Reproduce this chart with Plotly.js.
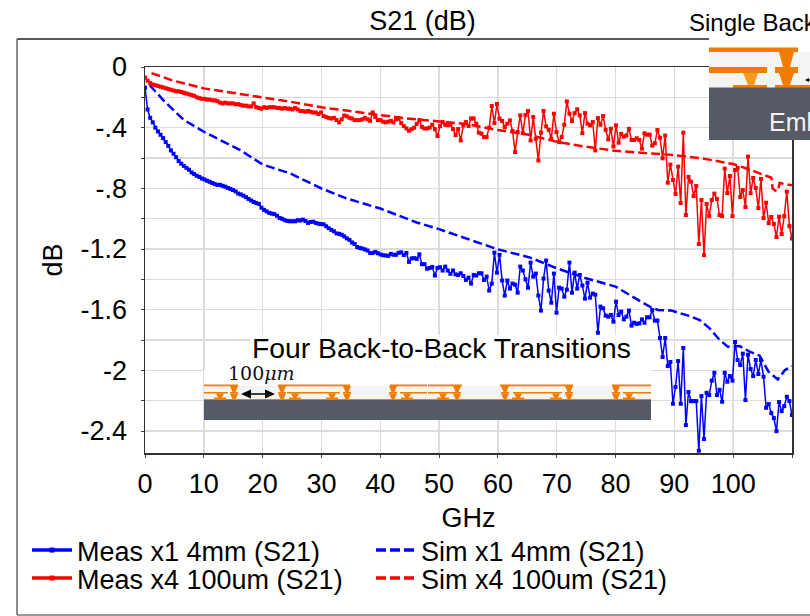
<!DOCTYPE html>
<html><head><meta charset="utf-8">
<script src="https://cdn.plot.ly/plotly-3.0.1.min.js"></script>
<style>html,body{margin:0;padding:0;background:#fff;overflow:hidden}#c{width:810px;height:616px}</style>
</head><body><div id="c"></div>
<script>
const FONT = '"Liberation Sans", Arial, sans-serif';
const stepGHz = 0.44;
const measBlue = [
-.136,-.28,-.335,-.365,-.40,-.425,-.447,-.469,-.495,-.52,-.55,-.572,-.595,-.62,-.638,-.652,-.665,-.677,-.695,-.706,
-.717,-.725,-.735,-.742,-.75,-.757,-.765,-.772,-.777,-.777,-.783,-.789,-.797,-.804,-.811,-.82,-.834,-.84,-.848,-.858,
-.87,-.88,-.89,-.897,-.903,-.928,-.942,-.952,-.962,-.967,-.97,-.981,-.995,-1.001,-1.01,-1.015,-1.017,-1.017,-1.017,-1.01,
-1.012,-1.006,-1.015,-1.028,-1.022,-1.02,-1.028,-1.033,-1.036,-1.037,-1.05,-1.063,-1.074,-1.083,-1.097,-1.10,-1.106,-1.117,-1.13,-1.14,
-1.157,-1.167,-1.187,-1.193,-1.197,-1.203,-1.21,-1.226,-1.226,-1.219,-1.228,-1.236,-1.241,-1.243,-1.245,-1.232,-1.238,-1.238,-1.225,-1.222,
-1.24,-1.226,-1.285,-1.262,-1.26,-1.265,-1.235,-1.30,-1.30,-1.33,-1.325,-1.318,-1.375,-1.325,-1.32,
-1.342,-1.316,-1.342,-1.364,-1.342,-1.367,-1.371,-1.36,-1.378,-1.404,-1.389,-1.428,-1.371,-1.375,-1.36,-1.36,-1.404,-1.382,-1.474,-1.428,
-1.224,-1.356,-1.239,-1.408,-1.507,-1.408,-1.461,-1.428,-1.435,-1.488,-1.316,-1.342,-1.40,-1.455,-1.29,-1.382,-1.362,-1.507,-1.606,-1.395,
-1.276,-1.474,-1.554,-1.362,-1.62,-1.455,-1.461,-1.514,-1.468,-1.29,-1.488,-1.356,-1.461,-1.371,-1.441,-1.527,-1.422,-1.521,-1.494,-1.501,
-1.752,-1.58,
-1.591,-1.639,-1.646,-1.635,-1.679,-1.547,-1.635,-1.613,-1.664,-1.646,
-1.606,-1.705,-1.686,-1.694,-1.69,-1.664,-1.686,-1.65,-1.65,-1.602,
-1.672,-1.672,-1.787,-1.912,-1.787,-1.972,-1.945,-2.22,-2.11,-1.939,
-2.22,-1.853,-2.361,-2.143,-2.203,-2.203,-2.203,-2.53,-2.17,-2.453,
-2.148,-2.163,-2.068,-2.016,-2.163,-2.128,-2.207,-2.016,-2.075,-2.038,
-2.068,-1.813,-1.932,-1.965,-1.89,-2.196,-1.897,-1.991,-2.038,-1.932,
-2.024,-1.932,-2.042,-2.247,-2.222,-2.282,-2.315,-2.401,-2.209,-2.269,
-2.236,-2.174,-2.203,-2.295];
const measRed = [
-.07,-.09,-.105,-.115,-.12,-.125,-.13,-.135,-.14,-.145,-.15,-.155,-.16,-.16,-.165,-.17,-.175,-.18,-.185,-.19,-.2,-.205,-.21,
-.21,-.215,-.215,-.22,-.22,-.225,-.235,-.24,-.235,-.24,-.24,-.24,-.245,-.245,-.25,-.255,-.255,-.26,-.26,-.24,-.265,-.27,-.275,
-.265,-.27,-.265,-.265,-.265,-.27,-.27,-.275,-.27,-.275,-.275,-.28,-.27,-.28,-.29,-.29,-.295,-.29,-.295,-.30,-.30,-.31,-.30,
-.323,-.33,-.335,-.34,-.335,-.35,-.365,-.345,-.32,-.325,-.335,-.34,-.35,-.35,-.35,-.345,-.335,-.345,-.355,-.30,-.33,-.35,-.35,
-.36,-.365,-.36,-.355,-.365,-.345,-.34,-.37,-.39,-.405,-.42,-.41,-.40,-.375,-.35,-.395,-.405,-.405,-.40,-.38,-.41,-.455,-.39,
-.363,-.381,-.383,-.378,-.409,-.449,-.409,-.484,-.385,-.363,-.389,-.339,-.339,-.374,-.433,-.44,-.462,-.462,-.40,-.257,
-.37,-.244,-.341,-.356,-.396,-.374,-.352,-.422,-.561,-.429,-.319,-.436,-.317,-.29,-.484,-.33,-.473,-.616,-.433,-.29,
-.392,-.414,-.473,-.308,-.429,-.495,-.462,-.381,-.227,-.308,-.356,-.304,-.279,-.319,-.436,-.304,-.374,-.385,-.363,-.55,
-.337,-.381,-.323,-.414,-.477,-.407,-.524,-.385,
-.499,-.441,-.459,-.452,-.408,-.481,-.481,-.47,-.481,-.538,
-.437,-.446,-.446,-.518,-.503,-.415,-.466,-.602,-.452,-.763,
-.644,-.745,-.837,-.657,-.897,-.433,-.976,-.725,-.756,-.851,
-.785,-1.167,-.877,-1.24,-.903,-.983,-.877,-.835,-.87,-.976,
-.983,-.67,-.831,-.719,-.983,-.679,-.666,-.857,-.811,-.923,
-.591,-.831,-.732,-.798,-.93,-.738,-.996,-.895,-1.029,-.989,
-1.035,-1.121,-.987,-1.101,-.983,-.822,-1.049,-1.13];
const simBlueF = [0.8,3.1,6.5,10,16.2,20,24.7,30,34.3,40,46.2,50,55.3,60,65.5,70,75,80,82.4,85.8,87.2,89.5,92.6,94.3,96,97.7,99.1,101.1,102.8,104.5,105.3,106,107.6,108.8,110];
const simBlueV = [-.119,-.218,-.346,-.427,-.548,-.643,-.702,-.801,-.867,-.933,-1.025,-1.069,-1.14,-1.202,-1.257,-1.327,-1.393,-1.448,-1.503,-1.58,-1.602,-1.606,-1.642,-1.668,-1.723,-1.80,-1.844,-1.84,-1.877,-1.903,-1.96,-2.009,-2.06,-1.998,-1.972];
const simRedF = [1.1,4.8,10,15.6,20,24.7,30,35.4,40,44.5,50,54.7,60,65,70,75,80,85.2,90,94.8,100,102.3,105.1,106.5,106.7,107.1,107.6,107.9,110];
const simRedV = [-.04,-.09,-.141,-.174,-.203,-.229,-.266,-.291,-.317,-.339,-.361,-.376,-.416,-.445,-.493,-.526,-.553,-.57,-.581,-.603,-.64,-.669,-.713,-.73,-.80,-.815,-.815,-.765,-.78];
const seriesNames = ['Meas x1 4mm (S21)','Sim x1 4mm (S21)','Meas x4 100um (S21)','Sim x4 100um (S21)'];
const xTicks = [0,10,20,30,40,50,60,70,80,90,100,110];
const xTickText = ['0','10','20','30','40','50','60','70','80','90','100',''];
const yTicks = [0,-.2,-.4,-.6,-.8,-1,-1.2,-1.4,-1.6,-1.8,-2,-2.2,-2.4];
const yTickText = ['0','','-.4','','-.8','','-1.2','','-1.6','','-2','','-2.4'];
const BLUE='#0000ff', RED='#ff0000', ORANGE='#f07d00', SLATE='#555a66';

const freq = a => a.map((_,i)=>+(i*stepGHz).toFixed(2));
const meas = (y,c)=>({x:freq(y),y,type:'scatter',mode:'lines+markers',showlegend:false,hoverinfo:'skip',
  line:{color:c,width:1.5},marker:{color:c,symbol:'square',size:4}});
const sim = (x,y,c)=>({x,y,type:'scatter',mode:'lines',showlegend:false,hoverinfo:'skip',
  line:{color:c,width:2.5,dash:'9px,4px',shape:'linear'}});
const keyM = (n,c,g)=>({x:[null],y:[null],name:n,legend:g,type:'scatter',mode:'lines+markers',line:{color:c,width:3.5},marker:{color:c,symbol:'square',size:5}});
const keyS = (n,c,g)=>({x:[null],y:[null],name:n,legend:g,type:'scatter',mode:'lines',line:{color:c,width:3.5,dash:'10px,4px'}});
const traces=[sim(simBlueF,simBlueV,BLUE),sim(simRedF,simRedV,RED),meas(measBlue,BLUE),meas(measRed,RED),
  keyM(seriesNames[0],BLUE,'legend'),keyS(seriesNames[1],BLUE,'legend'),keyM(seriesNames[2],RED,'legend2'),keyS(seriesNames[3],RED,'legend2')];

// page-pixel helpers for the decorative insets and frame
const W=810,H=616,L=145,T=67,PW=647,PH=386;
const px=v=>(v-L)/PW, py=v=>(T+PH-v)/PH;
const rect=(x0,y0,x1,y1,c)=>({type:'rect',xref:'paper',yref:'paper',x0:px(x0),x1:px(x1),y0:py(y0),y1:py(y1),fillcolor:c,line:{width:0},layer:'above'});
const seg=(x0,y0,x1,y1,c,w)=>({type:'line',xref:'paper',yref:'paper',x0:px(x0),x1:px(x1),y0:py(y0),y1:py(y1),line:{color:c,width:w},layer:'above'});
const poly=(pts,c)=>({type:'path',xref:'paper',yref:'paper',path:'M'+pts.map(p=>px(p[0])+','+py(p[1])).join('L')+'Z',fillcolor:c,line:{width:0},layer:'above'});
const shapes=[
  seg(17,39,709,39,'#222',1.5),seg(17,39,17,615,'#666',1.5),seg(17,615,810,615,'#777',1.5),
  // top-right inset
  rect(709,30,810,140,'#ffffff'),
  rect(709,52,810,88,'#f4f4f4'),
  rect(709,47.5,798,52,ORANGE),
  poly([[779,52],[794,52],[790,67],[783,67]],ORANGE),
  rect(709,67,767,73,ORANGE),rect(775,67,798,73,ORANGE),
  poly([[743,73],[758,73],[754,85],[748,85]],'#f59a23'),
  poly([[779,73],[794,73],[790,85],[783,85]],ORANGE),
  rect(733,85,767,88,ORANGE),rect(775,85,810,88,ORANGE),
  rect(709,87.5,810,140,SLATE),
  poly([[805,80],[809,78],[809,82]],'#000'),seg(808,80,810,80,'#000',1),
  // lower inset
  rect(250,335,640,371,'#ffffff'),
  rect(204,370,651,420,'#ffffff'),
  rect(204,386,651,400,'#f4f4f4'),
  rect(204,399,651,400.5,ORANGE),
  rect(204,400,651,420,SLATE)
];
const topBars=[[204,238],[278,350],[390,427],[428,462],[500,573],[612,651]];
const midBars=[[204,228],[287,340],[400,427],[428,455],[513,562],[623,651]];
const bigVias=[234,282,347,393,457,505,569,616];
const smallVias=[220,295,332,407,443,518,556,629];
topBars.forEach(b=>shapes.push(rect(b[0],384.5,b[1],386.2,ORANGE)));
midBars.forEach(b=>shapes.push(rect(b[0],392,b[1],393.5,ORANGE)));
bigVias.forEach(v=>{
  shapes.push(poly([[v-4,386],[v+4,386],[v+1.5,392],[v-1.5,392]],ORANGE));
  shapes.push(rect(v-4,392,v+4,393.5,ORANGE));
  shapes.push(poly([[v-4,393.5],[v+4,393.5],[v+1.5,399],[v-1.5,399]],ORANGE));
});
smallVias.forEach(v=>{
  shapes.push(poly([[v-4,393.5],[v+4,393.5],[v+1.5,398],[v-1.5,398]],ORANGE));
  shapes.push(rect(v-6,397.5,v+6,399.5,ORANGE));
});
shapes.push(seg(247,394,269,394,'#000',1.5));
shapes.push(poly([[241,394],[251,389.5],[251,398.5]],'#000'));
shapes.push(poly([[275,394],[265,389.5],[265,398.5]],'#000'));

const note=(x,y,text,size,color,fam)=>({xref:'paper',yref:'paper',x:px(x),y:py(y),text,showarrow:false,xanchor:'left',yanchor:'middle',
  font:{family:fam||FONT,size,color:color||'#000'},align:'left'});
const annotations=[
  note(687,22,'Single Back',24),
  note(767,122,'Eml',25,'#f2f2f2'),
  note(250,348,'Four Back-to-Back Transitions',28.3),
  note(226,373,'100<i>μm</i>',19,'#111','"DejaVu Serif", serif')
];
const legendBase=y=>({orientation:'h',x:px(27),xanchor:'left',y:py(y),yanchor:'top',font:{size:27,family:FONT,color:'#000'},
    traceorder:'normal',itemwidth:40,entrywidth:289,entrywidthmode:'pixels',bgcolor:'rgba(0,0,0,0)',itemclick:false,itemdoubleclick:false});
const layout={width:W,height:H,margin:{l:L,r:W-L-PW,t:T,b:H-T-PH,pad:0},paper_bgcolor:'#fff',plot_bgcolor:'#fff',
  font:{family:FONT,color:'#000',size:27},showlegend:true,hovermode:false,
  title:{text:'S21 (dB)',font:{size:27,family:FONT,color:'#000'},x:422.5/W,xref:'container',xanchor:'center',y:1-21/H,yref:'container',yanchor:'middle'},
  xaxis:{range:[0,110],tickmode:'array',tickvals:xTicks,ticktext:xTickText,showgrid:true,gridcolor:'#dcdcdc',gridwidth:1.5,zeroline:false,
    showline:true,mirror:true,linecolor:'#333',linewidth:1.5,ticks:'outside',ticklen:3,tickcolor:'#444',tickfont:{size:27,family:FONT},ticklabelstandoff:3,
    title:{text:'GHz',font:{size:27,family:FONT},standoff:10},automargin:false},
  yaxis:{range:[-2.545,0],tickmode:'array',tickvals:yTicks,ticktext:yTickText,showgrid:true,gridcolor:'#dcdcdc',gridwidth:1.5,zeroline:false,
    showline:true,mirror:true,linecolor:'#333',linewidth:1.5,ticks:'outside',ticklen:3,tickcolor:'#444',tickfont:{size:27,family:FONT},ticklabelstandoff:8,
    title:{text:'dB',font:{size:27,family:FONT},standoff:10},automargin:false},
  legend:legendBase(526),legend2:legendBase(554),
  shapes,annotations};
Plotly.newPlot('c',traces,layout,{displayModeBar:false,staticPlot:true});
</script></body></html>
